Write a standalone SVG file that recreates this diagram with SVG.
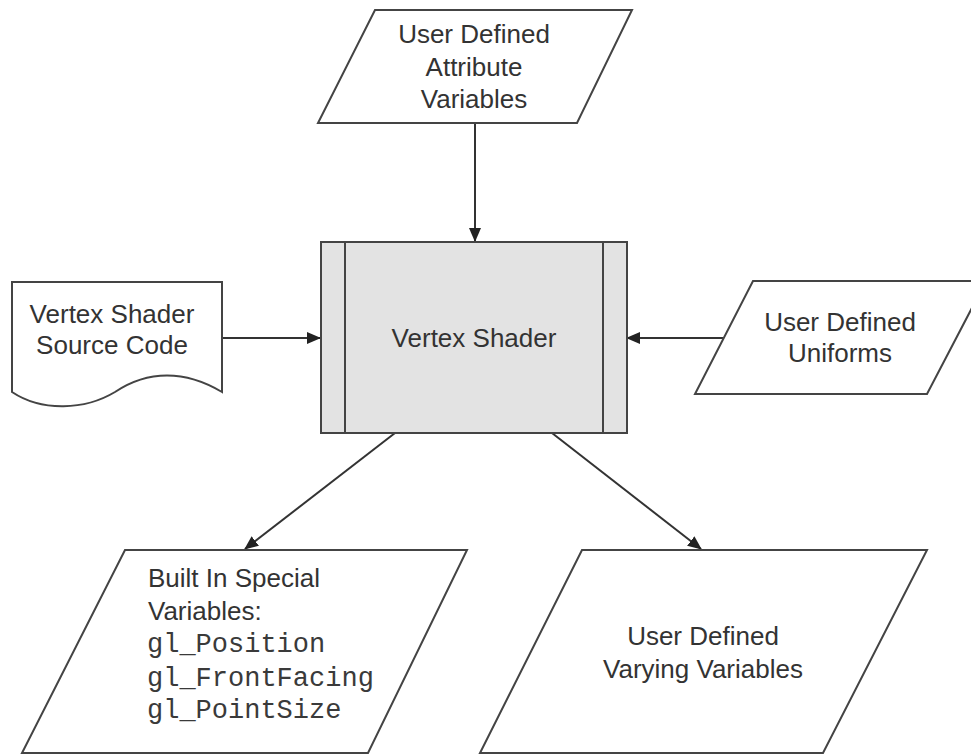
<svg xmlns="http://www.w3.org/2000/svg" width="971" height="755" viewBox="0 0 971 755">
  <style>
    .shape { fill: #ffffff; stroke: #444444; stroke-width: 2; }
    .proc { fill: #e3e3e3; stroke: #444444; stroke-width: 2; }
    .lbl { font-family: "Liberation Sans", Arial, sans-serif; font-size: 26px; fill: #333333; }
    .mid { text-anchor: middle; }
    .code { font-family: "Liberation Mono", "Courier New", monospace; font-size: 27px; fill: #3a3a3a; }
    .conn { stroke: #333333; stroke-width: 2; fill: none; marker-end: url(#arrow); }
  </style>
  <defs>
    <marker id="arrow" markerUnits="userSpaceOnUse" markerWidth="14" markerHeight="12" refX="13" refY="6" orient="auto">
      <path d="M0,0 L14,6 L0,12 z" fill="#222222"/>
    </marker>
  </defs>
  <rect width="971" height="755" fill="#ffffff"/>

  <g id="connectors">
    <line class="conn" x1="475" y1="123" x2="475" y2="241"/>
    <line class="conn" x1="222" y1="338" x2="320" y2="338"/>
    <line class="conn" x1="725" y1="338" x2="627" y2="338"/>
    <line class="conn" x1="395" y1="433" x2="245" y2="549"/>
    <line class="conn" x1="552" y1="433" x2="701" y2="549"/>
  </g>

  <g id="attribute-vars">
    <polygon class="shape" points="375,10 632,10 577,123 318,123"/>
    <text class="lbl mid" x="474" y="43">User Defined</text>
    <text class="lbl mid" x="474" y="76">Attribute</text>
    <text class="lbl mid" x="474" y="108">Variables</text>
  </g>

  <g id="vertex-shader">
    <rect class="proc" x="321" y="242" width="306" height="191"/>
    <line x1="345" y1="242" x2="345" y2="433" stroke="#444444" stroke-width="2"/>
    <line x1="603" y1="242" x2="603" y2="433" stroke="#444444" stroke-width="2"/>
    <text class="lbl mid" x="474" y="347">Vertex Shader</text>
  </g>

  <g id="source-code">
    <path class="shape" d="M12,282 H222 V392 C185,370 148,370 115,392 C85,410 42,412 12,392 Z"/>
    <text class="lbl mid" x="112" y="323">Vertex Shader</text>
    <text class="lbl mid" x="112" y="354">Source Code</text>
  </g>

  <g id="uniforms">
    <polygon class="shape" points="753,281 986,281 927,394 695,394"/>
    <text class="lbl mid" x="840" y="331">User Defined</text>
    <text class="lbl mid" x="840" y="362">Uniforms</text>
  </g>

  <g id="builtin-vars">
    <polygon class="shape" points="125,550 467,550 368,753 22,753"/>
    <text class="lbl" x="148" y="587">Built In Special</text>
    <text class="lbl" x="148" y="620">Variables:</text>
    <text class="code" x="147" y="652">gl_Position</text>
    <text class="code" x="147" y="686">gl_FrontFacing</text>
    <text class="code" x="147" y="718">gl_PointSize</text>
  </g>

  <g id="varying-vars">
    <polygon class="shape" points="582,550 927,550 823,753 480,753"/>
    <text class="lbl mid" x="703" y="645">User Defined</text>
    <text class="lbl mid" x="703" y="678">Varying Variables</text>
  </g>
</svg>
